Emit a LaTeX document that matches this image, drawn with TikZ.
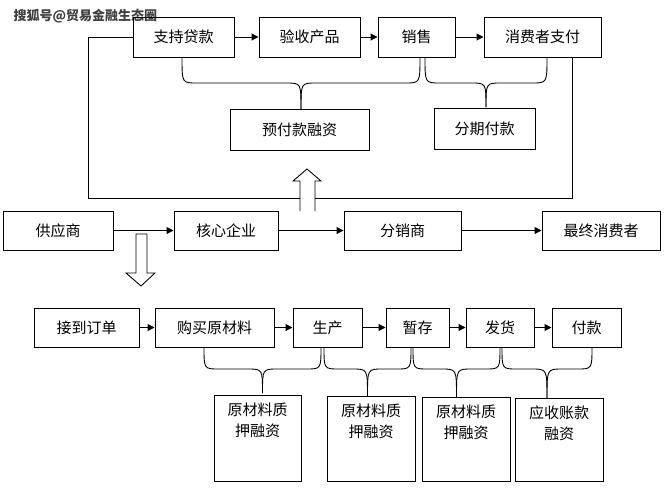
\documentclass[tikz,border=0pt]{standalone}
\usepackage{fontspec}
\newfontfamily\cjk{Noto Sans CJK SC}
\usetikzlibrary{arrows.meta}
\begin{document}
\begin{tikzpicture}[x=1pt,y=-1pt,
  box/.style={draw,line width=1pt,inner sep=0pt,font=\cjk\fontsize{15}{18}\selectfont},
  tbox/.style={draw,line width=1pt,inner sep=0pt,font=\cjk\fontsize{15}{21}\selectfont,align=center},
  arr/.style={line width=1pt,-{Triangle[length=7pt,width=7pt]}},
  ln/.style={line width=0.9pt}]
\useasboundingbox (0,0) rectangle (669,499);
\newcommand{\mkbox}[6]{\node[box,minimum width=#4-#2,minimum height=#5-#3] (#1) at ({(#2+#4)/2},{(#3+#5)/2}) {#6};}
\newcommand{\mybrace}[5]{% xl xr ytop yh ytip
 \pgfmathsetmacro{\mid}{(#1+#2)/2}
 \draw[ln] (#1,#3) .. controls (#1,#4) and (#1,#4) .. ({#1+15},#4) -- ({\mid-15},#4) .. controls (\mid,#4) and (\mid,#4) .. (\mid,#5);
 \draw[ln] (#2,#3) .. controls (#2,#4) and (#2,#4) .. ({#2-15},#4) -- ({\mid+15},#4) .. controls (\mid,#4) and (\mid,#4) .. (\mid,#5);}
\node[font=\cjk\bfseries\fontsize{13}{15}\selectfont,text=black!75,anchor=west] (wm) at (10,16) {搜狐号@贸易金融生态圈};
% top
\mkbox{a1}{133}{17}{234}{57}{支持贷款}
\mkbox{a2}{259}{17}{360}{57}{验收产品}
\mkbox{a3}{378}{17}{455}{57}{销售}
\mkbox{a4}{484}{17}{601}{57}{消费者支付}
\draw[arr] (a1) -- (a2); \draw[arr] (a2) -- (a3); \draw[arr] (a3) -- (a4);
\mkbox{f1}{230}{109}{369}{150}{预付款融资}
\mkbox{f2}{434}{108}{535}{149}{分期付款}
\mybrace{182}{420}{57}{83}{109}
\mybrace{425}{547}{57}{83}{107}
\coordinate (lpA) at (88,37); \coordinate (lpB) at (88,198); \coordinate (lpC) at (572,198); \coordinate (lpD) at (572,57);
\draw[ln] (a1.west |- lpA) -- (lpA) -- (lpB) -- (lpC) -- (lpD);
% up hollow arrow
\draw[ln,fill=white] (300,211) -- (300,181) -- (293,181) -- (307,169) -- (321,181) -- (315,181) -- (315,211);
% middle
\mkbox{m1}{3}{211}{113}{250}{供应商}
\mkbox{m2}{174}{211}{278}{250}{核心企业}
\mkbox{m3}{344}{211}{461}{250}{分销商}
\mkbox{m4}{542}{211}{660}{250}{最终消费者}
\draw[arr] (m1) -- (m2); \draw[arr] (m2) -- (m3); \draw[arr] (m3) -- (m4);
% down hollow arrow
\draw[ln,fill=white] (136,234) -- (147,234) -- (147,273) -- (155,273) -- (141,286) -- (126,273) -- (136,273) -- cycle;
% bottom
\mkbox{b1}{34}{308}{139}{347}{接到订单}
\mkbox{b2}{155}{308}{274}{347}{购买原材料}
\mkbox{b3}{293}{308}{362}{347}{生产}
\mkbox{b4}{386}{308}{449}{347}{暂存}
\mkbox{b5}{466}{308}{534}{347}{发货}
\mkbox{b6}{552}{308}{621}{347}{付款}
\draw[arr] (b1) -- (b2); \draw[arr] (b2) -- (b3); \draw[arr] (b3) -- (b4); \draw[arr] (b4) -- (b5); \draw[arr] (b5) -- (b6);
\mybrace{204}{321}{347}{369}{393}
\mybrace{324}{411}{347}{369}{396}
\mybrace{413}{500}{347}{369}{397}
\mybrace{502}{592}{347}{369}{398}
\foreach \n/\xl/\yt/\xr/\txt in {c1/214/395/301/{原材料质\\押融资},c2/327/396/415/{原材料质\\押融资},c3/422/397/510/{原材料质\\押融资},c4/515/398/603/{应收账款\\融资}}{
  \draw[ln] (\xl,\yt) rectangle (\xr,481);
  \node[tbox,draw=none,anchor=north] (\n) at ({(\xl+\xr)/2},{\yt+7}) {\txt};
}
\end{tikzpicture}
\end{document}
